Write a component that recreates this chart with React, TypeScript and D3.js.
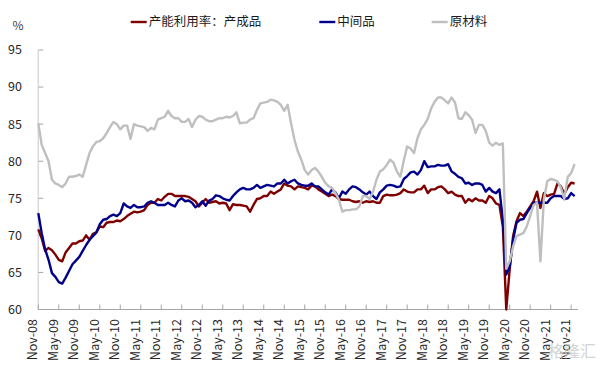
import React from "react";
import * as d3 from "d3";

const startYear = 2008;
const startMonth = 10; // Nov (0-based)
const monthNames = ["Jan","Feb","Mar","Apr","May","Jun","Jul","Aug","Sep","Oct","Nov","Dec"];

const finished = [
  70.8, 69.6, 67.9, 68.3, 68.0, 67.4, 66.7, 66.5, 67.7, 68.3,
  68.9, 68.9, 69.2, 69.3, 70.0, 69.4, 70.2, 70.4, 71.2, 71.1,
  71.7, 71.8, 71.8, 72.0, 71.9, 72.2, 72.6, 72.9, 73.2, 73.1,
  73.2, 73.4, 74.1, 74.4, 74.4, 74.9, 74.7, 75.2, 75.6, 75.6,
  75.3, 75.3, 75.3, 75.3, 75.2, 74.9, 74.6, 73.9, 74.4, 74.9,
  74.4, 74.5, 74.6, 74.3, 74.4, 74.3, 73.4, 74.2, 74.1, 74.1,
  74.0, 73.9, 73.2, 74.1, 74.9, 75.0, 75.3, 75.3, 75.9, 75.6,
  75.9, 76.2, 77.0, 76.7, 76.6, 76.2, 76.6, 76.5, 76.4, 76.2,
  76.7, 76.6, 76.2, 75.9, 75.6, 75.3, 75.5, 75.3, 74.9, 74.8,
  74.8, 74.8, 74.6, 74.5, 74.6, 74.4, 74.6, 74.5, 74.6, 74.4,
  74.4, 75.3, 75.5, 75.4, 75.4, 75.5, 75.7, 76.2, 75.9, 75.8,
  75.8, 76.2, 76.2, 76.7, 75.7, 76.2, 76.2, 76.5, 76.6, 76.2,
  75.7, 75.9, 75.5, 75.3, 75.3, 74.4, 74.9, 74.6, 75.0, 74.7,
  74.7, 74.4, 75.3, 75.0, 74.3, 74.1, 71.2, 60.0, 65.4, 69.9,
  71.9, 73.0, 72.6, 73.2, 73.9, 74.6, 75.9, 73.7, 75.7, 75.3,
  75.5, 75.6, 77.0, 76.6, 75.6, 76.5, 77.1, 77.0,
];

const intermediate = [
  73.0, 70.3, 68.1, 66.7, 64.9, 64.4, 63.7, 63.5, 64.3, 65.2,
  66.1, 66.6, 67.1, 67.9, 68.7, 69.4, 69.9, 70.4, 71.5, 72.1,
  72.2, 72.6, 72.8, 72.6, 73.0, 74.3, 73.9, 73.7, 74.1, 73.8,
  73.8, 73.9, 74.4, 74.6, 74.4, 74.1, 74.1, 74.1, 74.4, 74.1,
  73.9, 74.7, 75.0, 74.6, 74.7, 74.4, 73.8, 74.1, 74.6, 74.0,
  74.7, 74.9, 75.4, 75.3, 75.0, 74.8, 74.7, 75.3, 75.8, 76.2,
  76.4, 76.2, 76.2, 76.4, 76.8, 76.4, 76.6, 76.8, 76.7, 76.6,
  77.0, 77.0, 77.5, 77.0, 77.3, 77.5, 77.0, 76.8, 76.7, 76.7,
  77.0, 76.6, 76.6, 76.2, 75.8, 75.5, 76.2, 75.8, 75.0, 75.9,
  75.6, 76.2, 76.6, 76.5, 76.2, 75.8, 75.5, 75.9, 75.3, 74.9,
  75.8, 76.2, 76.7, 76.8, 76.7, 76.5, 76.6, 77.6, 78.0, 78.5,
  78.6, 78.2, 78.8, 80.0, 79.2, 79.3, 79.3, 79.5, 79.4, 79.4,
  79.6, 78.6, 78.3, 77.9, 77.7, 77.0, 77.1, 76.8, 77.0, 77.0,
  76.8, 75.9, 76.4, 75.9, 75.7, 76.2, 72.1, 64.7, 65.8, 69.4,
  71.7, 72.1, 72.2, 73.0, 73.7, 74.4, 74.4, 74.4, 74.4, 74.4,
  75.0, 75.3, 75.3, 75.3, 74.9, 75.0, 75.7, 75.3,
];

const rawMaterials = [
  85.1, 82.2, 81.1, 80.0, 77.5, 77.0, 76.8, 76.5, 77.0, 77.9,
  77.9, 78.0, 78.2, 77.9, 79.5, 81.1, 82.0, 82.6, 82.7, 83.1,
  83.8, 84.6, 85.3, 85.0, 84.3, 84.8, 84.8, 83.0, 85.0, 84.8,
  84.7, 84.6, 84.1, 84.5, 84.3, 85.6, 85.8, 86.0, 86.8, 86.1,
  85.8, 85.8, 85.3, 85.3, 85.7, 84.6, 85.6, 86.1, 86.0, 85.6,
  85.4, 85.4, 85.6, 85.8, 85.8, 86.0, 85.9, 86.1, 86.6, 85.1,
  85.2, 85.2, 85.6, 85.8, 86.9, 87.8, 87.9, 88.0, 88.3, 88.2,
  88.0, 87.6, 86.8, 87.6, 85.1, 82.9, 81.3, 80.2, 78.8, 78.2,
  78.8, 79.1, 78.6, 77.9, 77.1, 76.6, 76.4, 75.7, 74.8, 73.2,
  73.4, 73.4, 73.5, 73.5, 73.9, 75.3, 75.3, 74.9, 75.9, 77.5,
  78.6, 78.9, 79.5, 80.2, 79.8, 78.6, 77.9, 80.1, 82.0, 81.7,
  81.1, 83.1, 84.3, 84.9, 85.7, 87.1, 88.0, 88.6, 88.6, 88.2,
  87.8, 88.6, 87.9, 85.8, 85.7, 86.6, 86.2, 85.6, 83.8, 84.9,
  84.9, 84.1, 82.5, 82.1, 82.5, 82.2, 82.4, 65.5, 66.5, 68.5,
  69.9, 70.1, 70.3, 71.2, 72.6, 74.1, 74.4, 66.5, 74.8, 77.3,
  77.6, 77.5, 77.3, 76.4, 74.9, 77.9, 78.4, 79.6,
];

const yTicks = [60, 65, 70, 75, 80, 85, 90, 95];
const seriesNames = ["产能利用率：产成品", "中间品", "原材料"];
const seriesColors = ["#7f0000", "#00008b", "#bfbfbf"];

const W = 601;
const H = 370;
const left = 38.3;
const right = 578;
const top = 50;
const bottom = 309.5;
const totalMonths = 158;

function monthLabel(i: number): string {
  const m = startMonth + i;
  const y = startYear + Math.floor(m / 12);
  return `${monthNames[m % 12]}-${String(y % 100).padStart(2, "0")}`;
}

export default function App() {
  const x = d3.scaleLinear().domain([0, totalMonths]).range([left, right]);
  const y = d3.scaleLinear().domain([60, 95]).range([bottom, top]);
  const line = d3
    .line<number>()
    .x((_, i) => x(i))
    .y((d) => y(d));

  const xTicks = d3.range(0, 157, 6);
  const series = [finished, intermediate, rawMaterials];
  const font = "'Microsoft YaHei', 'Noto Sans CJK SC', sans-serif";
  const legendX = [130.7, 319.3, 431.7];

  return (
    <svg
      width={W}
      height={H}
      style={{ position: "absolute", left: 0, top: 0, background: "#fff" }}
      fontFamily={font}
    >
      {/* y axis */}
      <line x1={left} x2={left} y1={top} y2={bottom} stroke="#d9d9d9" strokeWidth={1.5} />
      {yTicks.map((t) => (
        <g key={t}>
          <line x1={left} x2={left + 5} y1={y(t)} y2={y(t)} stroke="#a6a6a6" strokeWidth={1} />
          <text x={22} y={y(t)} dy="0.35em" textAnchor="end" fontSize={12.5} fill="#262626">
            {t}
          </text>
        </g>
      ))}
      <text x={18} y={26} dy="0.35em" textAnchor="middle" fontSize={12} fill="#404040">%</text>

      {/* x axis */}
      <line x1={left} x2={right} y1={bottom} y2={bottom} stroke="#a6a6a6" strokeWidth={1} />
      {xTicks.map((t) => (
        <g key={t}>
          <line x1={x(t)} x2={x(t)} y1={bottom} y2={bottom - 5} stroke="#a6a6a6" strokeWidth={1} />
          <text
            transform={`translate(${x(t) - 1},${319}) rotate(-90)`}
            textAnchor="end"
            fontSize={12.5}
            fill="#262626"
          >
            {monthLabel(t)}
          </text>
        </g>
      ))}

      {/* lines */}
      {series.map((s, k) => (
        <path
          key={k}
          d={line(s) || ""}
          fill="none"
          stroke={seriesColors[k]}
          strokeWidth={2.4}
          strokeLinejoin="round"
        />
      ))}

      {/* legend */}
      {seriesNames.map((n, k) => (
        <g key={n}>
          <line
            x1={legendX[k]}
            x2={legendX[k] + 16}
            y1={22}
            y2={22}
            stroke={seriesColors[k]}
            strokeWidth={2.4}
          />
          <text x={legendX[k] + 18} y={22} dy="0.35em" fontSize={12.5} fill="#1a1a1a">
            {n}
          </text>
        </g>
      ))}

      {/* watermark */}
      <text x={596} y={357} textAnchor="end" fontSize={16} fill="#d0d0d0" opacity={0.9}>
        格隆汇
      </text>
    </svg>
  );
}
